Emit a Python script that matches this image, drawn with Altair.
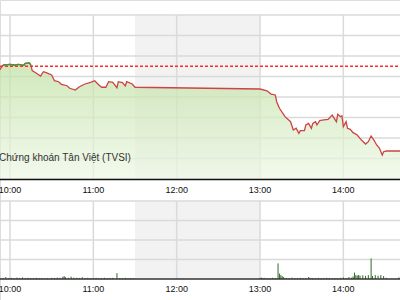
import altair as alt
import pandas as pd

# ---------------- data ----------------
price_time = ["9:52", "9:55", "9:58", "10:00", "10:03", "10:06", "10:09", "10:10", "10:11", "10:14",
              "10:15", "10:16", "10:19", "10:22", "10:24", "10:26", "10:30", "10:32", "10:35", "10:37",
              "10:41", "10:43", "10:47", "10:50", "10:54", "10:58", "11:01", "11:04", "11:06", "11:09",
              "11:11", "11:14", "11:17", "11:18", "11:21", "11:23", "11:24", "11:28", "11:30",
              "13:00", "13:05", "13:08", "13:11", "13:12", "13:14", "13:18", "13:22", "13:24", "13:26",
              "13:28", "13:29", "13:32", "13:33", "13:35", "13:37", "13:38", "13:40", "13:41", "13:43",
              "13:46", "13:49", "13:52", "13:53", "13:55", "13:56", "13:58", "13:59", "14:00", "14:02",
              "14:03", "14:05", "14:07", "14:10", "14:13", "14:16", "14:18", "14:20", "14:22", "14:24",
              "14:26", "14:28", "14:29", "14:31", "14:41"]
price_value = [1180.54, 1181.12, 1181.15, 1181.17, 1181.12, 1181.19, 1181.12, 1181.10, 1181.29, 1181.32,
               1181.12, 1180.57, 1180.31, 1180.05, 1180.47, 1180.37, 1180.15, 1179.59, 1179.49, 1179.24,
               1179.10, 1178.85, 1178.68, 1179.00, 1179.27, 1179.43, 1179.59, 1179.17, 1178.95, 1178.95,
               1179.49, 1179.43, 1178.91, 1179.49, 1179.40, 1179.07, 1179.49, 1179.27, 1178.95,
               1178.78, 1178.61, 1178.29, 1178.20, 1177.54, 1176.90, 1176.08, 1175.59, 1174.78, 1174.95,
               1174.46, 1174.71, 1174.71, 1175.27, 1175.43, 1174.95, 1175.43, 1175.59, 1175.27, 1175.69,
               1175.76, 1175.82, 1176.24, 1176.02, 1175.59, 1176.31, 1176.08, 1176.15, 1175.10, 1175.59,
               1174.95, 1174.85, 1174.52, 1174.29, 1173.80, 1173.41, 1173.64, 1174.20, 1173.80, 1173.32,
               1173.00, 1172.34, 1172.66, 1172.73, 1172.73]
ref_price = 1181.0
price_floor = 1170

vol_time = ["9:53", "9:55", "9:57", "9:59", "10:01", "10:03", "10:05", "10:07", "10:09", "10:11",
            "10:13", "10:15", "10:17", "10:19", "10:21", "10:23", "10:25", "10:27", "10:30", "10:32",
            "10:34", "10:36", "10:38", "10:39", "10:40", "10:42", "10:44", "10:46", "10:48", "10:50",
            "10:52", "10:54", "10:56", "10:58", "11:00", "11:02", "11:04", "11:06", "11:08", "11:10",
            "11:12", "11:14", "11:17", "11:19", "11:21", "11:23", "11:25", "11:27", "11:29",
            "13:00", "13:01", "13:02", "13:03", "13:05", "13:07", "13:09", "13:11", "13:13", "13:14",
            "13:15", "13:16", "13:17", "13:19", "13:21", "13:23", "13:25", "13:27", "13:29", "13:31",
            "13:33", "13:35", "13:36", "13:38", "13:40", "13:42", "13:44", "13:46", "13:48", "13:50",
            "13:52", "13:54", "13:56", "13:58", "14:00", "14:02", "14:04", "14:06", "14:07", "14:08",
            "14:09", "14:10", "14:11", "14:12", "14:14", "14:16", "14:18", "14:20", "14:21", "14:23",
            "14:25", "14:27", "14:29", "14:31", "14:40"]
vol_value = [40, 60, 100, 50, 60, 40, 70, 50, 80, 40,
             60, 50, 40, 60, 50, 40, 30, 40, 60, 50,
             70, 60, 110, 150, 90, 60, 120, 70, 60, 50,
             90, 50, 60, 40, 50, 60, 40, 50, 60, 40,
             50, 60, 300, 50, 40, 60, 40, 50, 40,
             50, 70, 40, 60, 40, 50, 60, 50, 800, 280,
             200, 150, 100, 60, 50, 70, 50, 40, 60, 50,
             40, 100, 60, 50, 40, 60, 50, 40, 60, 50,
             40, 50, 40, 60, 80, 50, 100, 70, 130, 330,
             200, 180, 200, 170, 190, 160, 200, 1050, 150, 200,
             170, 200, 150, 60, 80]  # thousand shares

hour_ticks = ["10:00", "11:00", "12:00", "13:00", "14:00"]
price_grid = [1170, 1172, 1174, 1176, 1178, 1180, 1182, 1184, 1186]
vol_grid = [1000, 2000, 3000, 4000]
lunch_break = ["11:30", "13:00"]
source_text = "Chứng khoán Tân Việt (TVSI)"


def to_min(t):
    h, m = t.split(":")
    return int(h) * 60 + int(m)


price_df = pd.DataFrame({"m": [to_min(t) for t in price_time], "v": price_value,
                         "base": [price_floor] * len(price_value)})
vol_df = pd.DataFrame({"m": [to_min(t) for t in vol_time], "vol": vol_value})
tick_df = pd.DataFrame({"m": [to_min(t) for t in hour_ticks], "label": hour_ticks})
pgrid_df = pd.DataFrame({"v": price_grid})
vgrid_df = pd.DataFrame({"vol": vol_grid})
lunch_df = pd.DataFrame({"m1": [to_min(lunch_break[0])], "m2": [to_min(lunch_break[1])]})
ref_df = pd.DataFrame({"v": [ref_price]})
src_df = pd.DataFrame({"t": [source_text]})

# ---------------- scales ----------------
xs = alt.Scale(domain=[592.8, 880.8], nice=False, zero=False)
top_s = alt.Scale(domain=[1170, 1186], range=[179, 15], nice=False, zero=False)
vol_s = alt.Scale(domain=[0, 4000], range=[279, 201], nice=False, zero=False)

X = lambda f="m": alt.X(f"{f}:Q", scale=xs, axis=None)
GRID = "#dadada"

shade_top = alt.Chart(lunch_df).mark_rect(color="#f2f2f2").encode(
    x=X("m1"), x2="m2", y=alt.value(15), y2=alt.value(179))
shade_bot = alt.Chart(lunch_df).mark_rect(color="#f2f2f2").encode(
    x=X("m1"), x2="m2", y=alt.value(201), y2=alt.value(279))

vgrid_top = alt.Chart(tick_df).mark_rule(color=GRID, strokeWidth=1.5).encode(
    x=X(), y=alt.value(15), y2=alt.value(179))
vgrid_bot = alt.Chart(tick_df).mark_rule(color=GRID, strokeWidth=1.5).encode(
    x=X(), y=alt.value(201), y2=alt.value(279))

hgrid_top = alt.Chart(pgrid_df).mark_rule(color=GRID, strokeWidth=1.5).encode(
    y=alt.Y("v:Q", scale=top_s, axis=None), x=alt.value(0), x2=alt.value(400))
hgrid_bot = alt.Chart(vgrid_df).mark_rule(color=GRID, strokeWidth=1.5).encode(
    y=alt.Y("vol:Q", scale=vol_s, axis=None), x=alt.value(0), x2=alt.value(400))

area = alt.Chart(price_df).mark_area(
    clip=True,
    opacity=0.72,
    color=alt.Gradient(gradient="linear",
                       stops=[alt.GradientStop(color="#bfe0a2", offset=0),
                              alt.GradientStop(color="#eef8e6", offset=1)],
                       x1=1, x2=1, y1=0, y2=1),
).encode(x=X(), y=alt.Y("v:Q", scale=top_s, axis=None), y2="base:Q")

line_red = alt.Chart(price_df).mark_line(clip=True, color="#cc4444", strokeWidth=1.3).encode(
    x=X(), y=alt.Y("v:Q", scale=top_s, axis=None))
line_green = alt.Chart(price_df).transform_filter(
    alt.datum.v >= ref_price).mark_line(clip=True, color="#3f9a3a", strokeWidth=1.3).encode(
    x=X(), y=alt.Y("v:Q", scale=top_s, axis=None))

ref_rule = alt.Chart(ref_df).mark_rule(color="#ff2a2a", strokeWidth=1.5, strokeDash=[3, 2]).encode(
    y=alt.Y("v:Q", scale=top_s, axis=None), x=alt.value(0), x2=alt.value(400))

vol_bars = alt.Chart(vol_df).mark_rule(clip=True, color="#2f6b2a", strokeWidth=1).encode(
    x=X(), y=alt.Y("vol:Q", scale=vol_s, axis=None), y2=alt.value(279))

base_top = alt.Chart(src_df).mark_rule(color="#111111", strokeWidth=1.5).encode(
    x=alt.value(0), x2=alt.value(400), y=alt.value(179.5))
base_bot = alt.Chart(src_df).mark_rule(color="#333333", strokeWidth=1.5).encode(
    x=alt.value(0), x2=alt.value(400), y=alt.value(279))

lab_top = alt.Chart(tick_df).mark_text(fontSize=9, font="Liberation Sans", color="#111111",
                                       baseline="middle", align="center").encode(
    x=X(), y=alt.value(190), text="label:N")
lab_bot = alt.Chart(tick_df).mark_text(fontSize=9, font="Liberation Sans", color="#111111",
                                       baseline="middle", align="center").encode(
    x=X(), y=alt.value(289), text="label:N")

src = alt.Chart(src_df).mark_text(fontSize=10, font="Liberation Sans", color="#333333",
                                  baseline="middle", align="left").encode(
    x=alt.value(-1), y=alt.value(158), text="t:N")

chart = alt.layer(
    shade_top, shade_bot, vgrid_top, vgrid_bot, hgrid_top, hgrid_bot,
    area, ref_rule, line_red, line_green, vol_bars, base_top, base_bot,
    lab_top, lab_bot, src
).resolve_scale(y="independent").properties(
    width=400, height=300,
    autosize=alt.AutoSizeParams(type="none"),
    padding=0,
).configure_view(stroke=None).configure(background="white")

chart.save("out.html", embed_options={"renderer": "svg", "actions": False})
